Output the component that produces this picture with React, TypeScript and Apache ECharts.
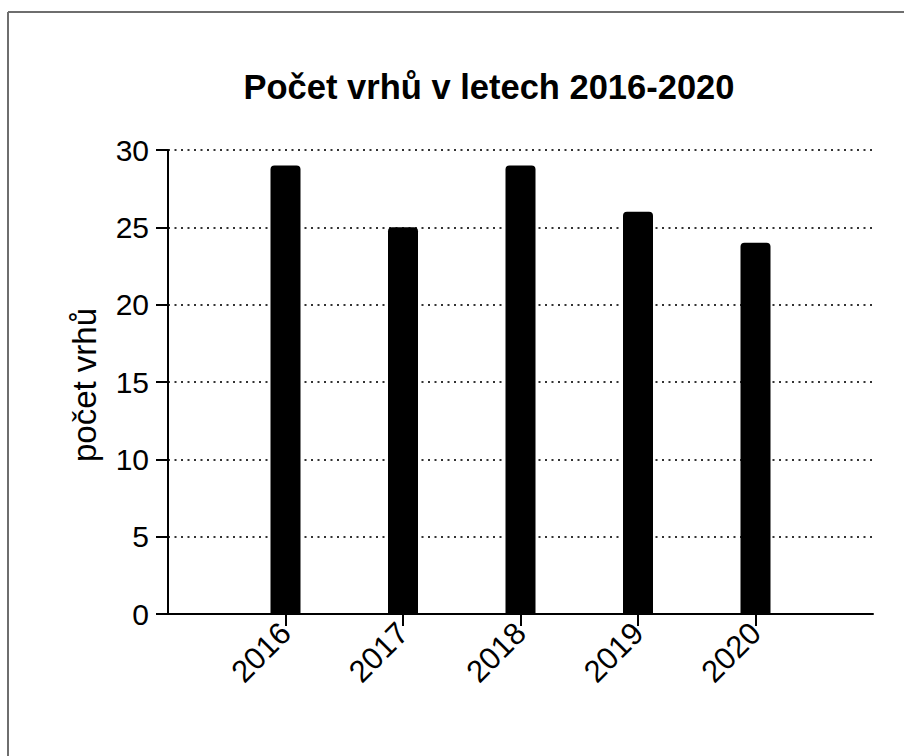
import React, { useEffect, useRef } from "react";
import * as echarts from "echarts";

const categories = ["2016", "2017", "2018", "2019", "2020"];
const litters = [29, 25, 29, 26, 24];
const yTicks = { min: 0, max: 30, interval: 5 };
const titleText = "Počet vrhů v letech 2016-2020";
const yName = "počet vrhů";

const FONT = "'Liberation Sans', Arial, Helvetica, sans-serif";

export default function App() {
  const ref = useRef<HTMLDivElement>(null);
  useEffect(() => {
    document.body.style.margin = "0";
    const chart = echarts.init(ref.current!, null, { renderer: "svg" });
    const cats = ["", ...categories, ""];
    const data = [null, ...litters, null];
    chart.setOption({
      animation: false,
      backgroundColor: "#ffffff",
      textStyle: { fontFamily: FONT },
      grid: { left: 168, top: 150, right: 31, bottom: 142, containLabel: false },
      graphic: [
        { type: "line", shape: { x1: 8, y1: 12, x2: 904, y2: 12 }, style: { stroke: "#6e6e6e", lineWidth: 2 } },
        { type: "line", shape: { x1: 8, y1: 12, x2: 8, y2: 756 }, style: { stroke: "#6e6e6e", lineWidth: 2 } },
        {
          type: "text",
          x: 489,
          y: 87,
          style: {
            text: titleText,
            fill: "#000",
            font: `bold 34.5px ${FONT}`,
            textAlign: "center",
            textVerticalAlign: "middle",
          },
        },
        {
          type: "text",
          x: 84,
          y: 385,
          rotation: Math.PI / 2,
          style: {
            text: yName,
            fill: "#000",
            font: `33px ${FONT}`,
            textAlign: "center",
            textVerticalAlign: "middle",
          },
        },
      ],
      xAxis: {
        type: "category",
        data: cats,
        boundaryGap: false,
        axisLine: { show: true, lineStyle: { color: "#000", width: 2 } },
        axisTick: {
          show: true,
          length: 12,
          interval: (_i: number, v: string) => v !== "",
          lineStyle: { color: "#000", width: 2 },
        },
        axisLabel: {
          rotate: 45,
          margin: 14,
          color: "#000",
          fontSize: 31,
          fontFamily: FONT,
          interval: (_i: number, v: string) => v !== "",
        },
        splitLine: { show: false },
      },
      yAxis: {
        type: "value",
        min: yTicks.min,
        max: yTicks.max,
        interval: yTicks.interval,
        axisLine: { show: true, lineStyle: { color: "#000", width: 2 } },
        axisTick: { show: true, length: 12, lineStyle: { color: "#000", width: 2 } },
        axisLabel: { margin: 19, color: "#000", fontSize: 30, fontFamily: FONT },
        splitLine: { show: true, lineStyle: { color: "#333", width: 2, type: [2, 4.5] } },
      },
      series: [
        {
          type: "bar",
          data,
          barWidth: 30,
          itemStyle: { color: "#000", borderRadius: [4, 4, 0, 0] },
        },
      ],
    });
    return () => chart.dispose();
  }, []);
  return <div ref={ref} style={{ width: 904, height: 756 }} />;
}
